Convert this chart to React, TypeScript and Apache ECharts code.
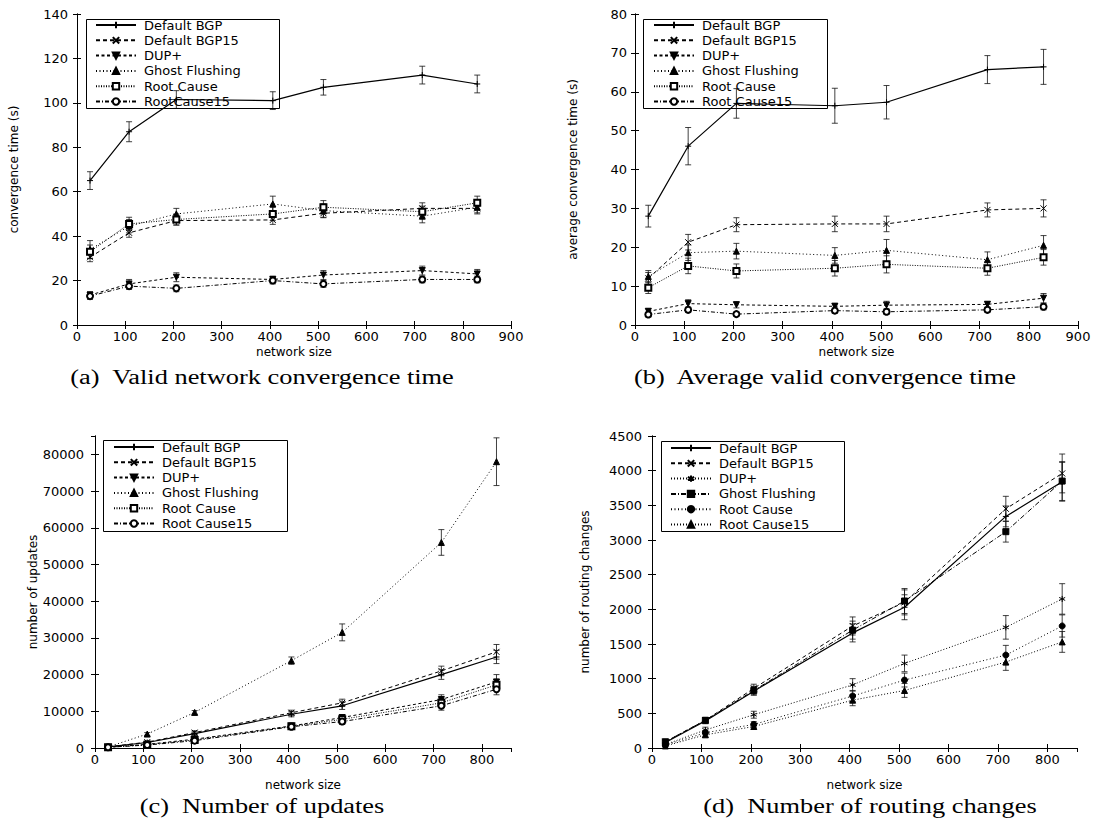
import React, { useEffect, useRef } from "react";
import * as echarts from "echarts";

const networkSize = [27, 108, 206, 406, 511, 716, 830];

const namesA = ["Default BGP", "Default BGP15", "DUP+", "Ghost Flushing", "Root Cause", "RootCause15"];
const namesB = ["Default BGP", "Default BGP15", "DUP+", "Ghost Flushing", "Root Cause", "Root Cause15"];
const namesC = ["Default BGP", "Default BGP15", "DUP+", "Ghost Flushing", "Root Cause", "Root Cause15"];
const namesD = ["Default BGP", "Default BGP15", "DUP+", "Ghost Flushing", "Root Cause", "Root Cause15"];

// (a) valid network convergence time (s)
const aBGP = [65, 87, 101.5, 101, 107, 112.5, 108.5];
const aBGP15 = [30.5, 41.5, 47, 47.3, 50.3, 52.5, 52.5];
const aDUP = [13.5, 18.5, 21.5, 20.5, 22.5, 24.5, 23];
const aGhost = [34, 44.5, 50, 54.5, 51.5, 49, 53];
const aRC = [33, 45.5, 47.5, 50, 53, 51, 55];
const aRC15 = [13, 17.5, 16.5, 20, 18.5, 20.5, 20.5];
const aBGPErr = [4, 4.5, 4, 4, 3.5, 4, 4];
const aBGP15Err = [2, 2, 2, 2, 2, 2.5, 2];
const aDUPErr = [1.5, 2, 2, 1.5, 2, 2, 2];
const aGhostErr = [4, 3, 2.5, 3.5, 3, 3, 3];
const aRCErr = [3, 3, 2.5, 3, 3, 2.5, 3];
const aRC15Err = [1.5, 1.5, 1.5, 1.5, 1.5, 1.5, 1.5];

// (b) average valid convergence time (s)
const bBGP = [28, 46, 57, 56.4, 57.3, 65.7, 66.4];
const bBGP15 = [12, 21.3, 25.8, 26, 26, 29.6, 30];
const bDUP = [3.5, 5.5, 5.2, 4.8, 5.1, 5.3, 6.9];
const bGhost = [12.5, 18.6, 19, 17.9, 19.2, 16.8, 20.5];
const bRC = [9.6, 15.2, 13.9, 14.6, 15.6, 14.6, 17.4];
const bRC15 = [2.7, 3.9, 2.8, 3.7, 3.4, 3.9, 4.7];
const bBGPErr = [2.8, 4.8, 3.8, 4.5, 4.3, 3.6, 4.5];
const bBGP15Err = [1.5, 2, 1.8, 2, 2, 1.8, 2.2];
const bDUPErr = [0.8, 1, 0.8, 0.8, 1, 0.8, 1.2];
const bGhostErr = [1.5, 2, 2, 2, 2.8, 2, 2.5];
const bRCErr = [1.5, 2, 1.8, 2, 2.2, 1.8, 2];
const bRC15Err = [0.6, 0.7, 0.6, 0.7, 0.7, 0.7, 0.8];

// (c) number of updates
const cBGP = [300, 1500, 3900, 9200, 11500, 20000, 24800];
const cBGP15 = [300, 1600, 4200, 9600, 12300, 21000, 26200];
const cDUP = [200, 1000, 2400, 6000, 8300, 13200, 18000];
const cGhost = [300, 3800, 9700, 23800, 31500, 56000, 78000];
const cRC = [200, 900, 2200, 5900, 7800, 12300, 17200];
const cRC15 = [200, 800, 2000, 5800, 7200, 11500, 16000];
const cBGPErr = [100, 300, 500, 700, 1000, 1300, 1800];
const cBGP15Err = [100, 300, 500, 700, 1000, 1300, 2000];
const cDUPErr = [100, 200, 400, 500, 800, 1300, 2000];
const cGhostErr = [200, 400, 500, 1000, 2300, 3500, 6500];
const cRCErr = [100, 200, 400, 500, 800, 1200, 1500];
const cRC15Err = [100, 200, 400, 500, 800, 1200, 1500];

// (d) number of routing changes
const dBGP = [80, 390, 820, 1660, 2030, 3340, 3840];
const dBGP15 = [90, 400, 860, 1760, 2100, 3450, 3960];
const dDUP = [50, 260, 480, 910, 1220, 1740, 2150];
const dGhost = [90, 400, 830, 1700, 2120, 3120, 3850];
const dRC = [40, 220, 340, 750, 980, 1340, 1760];
const dRC15 = [30, 190, 310, 690, 830, 1240, 1530];
const dBGPErr = [20, 40, 60, 130, 180, 150, 280];
const dBGP15Err = [20, 40, 60, 130, 180, 180, 280];
const dDUPErr = [15, 40, 50, 90, 120, 170, 220];
const dGhostErr = [20, 40, 60, 130, 180, 150, 280];
const dRCErr = [10, 30, 40, 80, 100, 140, 160];
const dRC15Err = [10, 30, 40, 80, 100, 120, 150];

const PLUS = "path://M5,0L5,10M0,5L10,5";
const CROSS = "path://M1,1L9,9M9,1L1,9";
const STAR = "path://M5,0L5,10M0.7,2.5L9.3,7.5M0.7,7.5L9.3,2.5";

type Sty = { symbol: string; rotate?: number; dash: any; width?: number };

const stylesABC: Sty[] = [
  { symbol: PLUS, dash: "solid", width: 1.2 },
  { symbol: CROSS, dash: [4, 3] },
  { symbol: "triangle", rotate: 180, dash: [3, 2.5] },
  { symbol: "triangle", dash: [1, 2.5] },
  { symbol: "emptyRect", dash: [1, 1.5] },
  { symbol: "emptyCircle", dash: [4, 2, 1, 2] },
];
const stylesD: Sty[] = [
  { symbol: PLUS, dash: "solid", width: 1.2 },
  { symbol: CROSS, dash: [4, 3] },
  { symbol: STAR, dash: [1, 2] },
  { symbol: "rect", dash: [5, 2, 1, 2] },
  { symbol: "circle", dash: [1, 2.5] },
  { symbol: "triangle", dash: [1, 2] },
];

const panels = [
  {
    key: "a", names: namesA, styles: stylesABC,
    values: [aBGP, aBGP15, aDUP, aGhost, aRC, aRC15],
    errs: [aBGPErr, aBGP15Err, aDUPErr, aGhostErr, aRCErr, aRC15Err],
    grid: { left: 77, top: 14, width: 434, height: 311 },
    xMax: 900, yMax: 140, yInterval: 20,
    yName: "convergence time (s)", yNameGap: 57, xNameGap: 21, yLabelMargin: 9,
    legend: { left: 95, top: 18 }, box: [86, 19, 193, 89],
    caption: "(a)  Valid network convergence time", capX: 262, capY: 377,
  },
  {
    key: "b", names: namesB, styles: stylesABC,
    values: [bBGP, bBGP15, bDUP, bGhost, bRC, bRC15],
    errs: [bBGPErr, bBGP15Err, bDUPErr, bGhostErr, bRCErr, bRC15Err],
    grid: { left: 635, top: 14, width: 443, height: 311 },
    xMax: 900, yMax: 80, yInterval: 10,
    yName: "average convergence time (s)", yNameGap: 56, xNameGap: 21, yLabelMargin: 8,
    legend: { left: 653, top: 18 }, box: [643, 19, 184, 89],
    caption: "(b)  Average valid convergence time", capX: 825, capY: 377,
  },
  {
    key: "c", names: namesC, styles: stylesABC,
    values: [cBGP, cBGP15, cDUP, cGhost, cRC, cRC15],
    errs: [cBGPErr, cBGP15Err, cDUPErr, cGhostErr, cRCErr, cRC15Err],
    grid: { left: 95, top: 436, width: 416, height: 312 },
    xMax: 860, yMax: 85000, yInterval: 10000,
    yName: "number of updates", yNameGap: 49, xNameGap: 31, yLabelMargin: 11,
    legend: { left: 113, top: 440 }, box: [103, 440, 184, 91],
    caption: "(c)  Number of updates", capX: 262, capY: 806,
  },
  {
    key: "d", names: namesD, styles: stylesD,
    values: [dBGP, dBGP15, dDUP, dGhost, dRC, dRC15],
    errs: [dBGPErr, dBGP15Err, dDUPErr, dGhostErr, dRCErr, dRC15Err],
    grid: { left: 652, top: 436, width: 425, height: 312 },
    xMax: 860, yMax: 4500, yInterval: 500,
    yName: "number of routing changes", yNameGap: 61, xNameGap: 31, yLabelMargin: 10,
    legend: { left: 670, top: 441 }, box: [661, 441, 183, 90],
    caption: "(d)  Number of routing changes", capX: 870, capY: 806,
  },
];

const FONT = "DejaVu Sans";

const renderErr = (_params: any, api: any) => {
  const x = api.value(0);
  const p1 = api.coord([x, api.value(1)]);
  const p2 = api.coord([x, api.value(2)]);
  const w = 3;
  const st = { stroke: "#111", lineWidth: 0.8 };
  return {
    type: "group",
    children: [
      { type: "line", shape: { x1: p1[0], y1: p1[1], x2: p2[0], y2: p2[1] }, style: st },
      { type: "line", shape: { x1: p1[0] - w, y1: p1[1], x2: p1[0] + w, y2: p1[1] }, style: st },
      { type: "line", shape: { x1: p2[0] - w, y1: p2[1], x2: p2[0] + w, y2: p2[1] }, style: st },
    ],
  };
};

// legend frame (decoration, in pixels)
const makeFrameRenderer = (box: number[]) => () => {
  const [x, y, w, h] = box;
  const l = x + 0.5, t = y + 0.5, r = x + w + 0.5, b = y + h + 0.5;
  const st = { stroke: "#000", lineWidth: 1 };
  return {
    type: "group",
    children: [
      { type: "line", shape: { x1: l, y1: t, x2: r, y2: t }, style: st },
      { type: "line", shape: { x1: r, y1: t, x2: r, y2: b }, style: st },
      { type: "line", shape: { x1: r, y1: b, x2: l, y2: b }, style: st },
      { type: "line", shape: { x1: l, y1: b, x2: l, y2: t }, style: st },
    ],
  };
};

function buildOption() {
  const grid: any[] = [];
  const xAxis: any[] = [];
  const yAxis: any[] = [];
  const series: any[] = [];
  const legend: any[] = [];
  const graphic: any[] = [];

  panels.forEach((p, i) => {
    grid.push({ ...p.grid, containLabel: false });
    const tick = { inside: true, length: 4, lineStyle: { color: "#000", width: 1 } };
    const line = { show: true, lineStyle: { color: "#000", width: 1 } };
    xAxis.push({
      type: "value", gridIndex: i, min: 0, max: p.xMax, interval: 100,
      axisLine: line, axisTick: tick, splitLine: { show: false },
      axisLabel: {
        color: "#000", fontSize: 13, fontFamily: FONT, margin: 5,
        showMaxLabel: p.xMax % 100 === 0, formatter: (v: number) => String(v),
      },
      name: "network size", nameLocation: "middle", nameGap: p.xNameGap,
      nameTextStyle: { color: "#000", fontSize: 12, fontFamily: FONT },
    });
    yAxis.push({
      type: "value", gridIndex: i, min: 0, max: p.yMax, interval: p.yInterval,
      axisLine: line, axisTick: tick, splitLine: { show: false },
      axisLabel: {
        color: "#000", fontSize: 13, fontFamily: FONT, margin: p.yLabelMargin,
        showMaxLabel: p.yMax % p.yInterval === 0, formatter: (v: number) => String(v),
      },
      name: p.yName, nameLocation: "middle", nameGap: p.yNameGap,
      nameTextStyle: { color: "#000", fontSize: 12, fontFamily: FONT },
    });
  });
  // mirror axes (top / right) for ticks on all four sides
  panels.forEach((p, i) => {
    const tick = { inside: true, length: 4, lineStyle: { color: "#000", width: 1 } };
    const line = { show: true, lineStyle: { color: "#000", width: 1 } };
    xAxis.push({
      type: "value", gridIndex: i, position: "top", min: 0, max: p.xMax, interval: 100,
      axisLine: line, axisTick: tick, axisLabel: { show: false }, splitLine: { show: false },
    });
    yAxis.push({
      type: "value", gridIndex: i, position: "right", min: 0, max: p.yMax, interval: p.yInterval,
      axisLine: line, axisTick: tick, axisLabel: { show: false }, splitLine: { show: false },
    });
  });

  panels.forEach((p, i) => {
    const legendData: string[] = [];
    p.names.forEach((nm, k) => {
      const st = p.styles[k];
      const full = `${p.key}|${nm}`;
      legendData.push(full);
      const vals = p.values[k];
      const errs = p.errs[k];
      series.push({
        type: "custom", name: `${p.key}-err-${k}`, xAxisIndex: i, yAxisIndex: i,
        renderItem: renderErr, silent: true, z: 2, clip: false,
        encode: { x: 0, y: [1, 2] },
        data: networkSize.map((x, j) => [x, vals[j] - errs[j], vals[j] + errs[j]]),
      });
      series.push({
        type: "line", name: full, xAxisIndex: i, yAxisIndex: i, z: 3, clip: false,
        data: networkSize.map((x, j) => [x, vals[j]]),
        symbol: st.symbol, symbolRotate: st.rotate || 0, symbolSize: 6, showSymbol: true,
        lineStyle: { color: "#000", width: st.width || 1, type: st.dash },
        itemStyle: { color: "#000", borderColor: "#000", borderWidth: 1 },
        emphasis: { disabled: true },
      });
    });
    series.push({
      type: "custom", name: `${p.key}-frame`, xAxisIndex: i, yAxisIndex: i,
      renderItem: makeFrameRenderer(p.box), silent: true, z: 4, clip: false,
      data: [[0, 0]],
    });
    legend.push({
      left: p.legend.left, top: p.legend.top, orient: "vertical", padding: 0,
      itemWidth: 40, itemHeight: 8, itemGap: 1.3, selectedMode: false,
      data: legendData,
      formatter: (n: string) => n.split("|")[1],
      textStyle: { color: "#000", fontSize: 13, fontFamily: FONT, lineHeight: 14, padding: [0, 0, 0, 3] },
    });
    graphic.push({
      type: "text", x: p.capX, y: p.capY, scaleX: 1.32, silent: true,
      style: {
        text: p.caption, fontFamily: "Liberation Serif", fontSize: 20, fill: "#000",
        align: "center", verticalAlign: "middle", textAlign: "center", textVerticalAlign: "middle",
      },
    });
  });

  return {
    animation: false,
    backgroundColor: "#fff",
    textStyle: { fontFamily: FONT },
    grid, xAxis, yAxis, series, legend, graphic,
  };
}

export default function App() {
  const ref = useRef<HTMLDivElement>(null);
  useEffect(() => {
    if (!ref.current) return;
    const chart = echarts.init(ref.current, undefined, { renderer: "svg" });
    chart.setOption(buildOption() as any);
    return () => chart.dispose();
  }, []);
  return (
    <div
      ref={ref}
      style={{ position: "absolute", left: 0, top: 0, width: 1096, height: 836, background: "#fff" }}
    />
  );
}
